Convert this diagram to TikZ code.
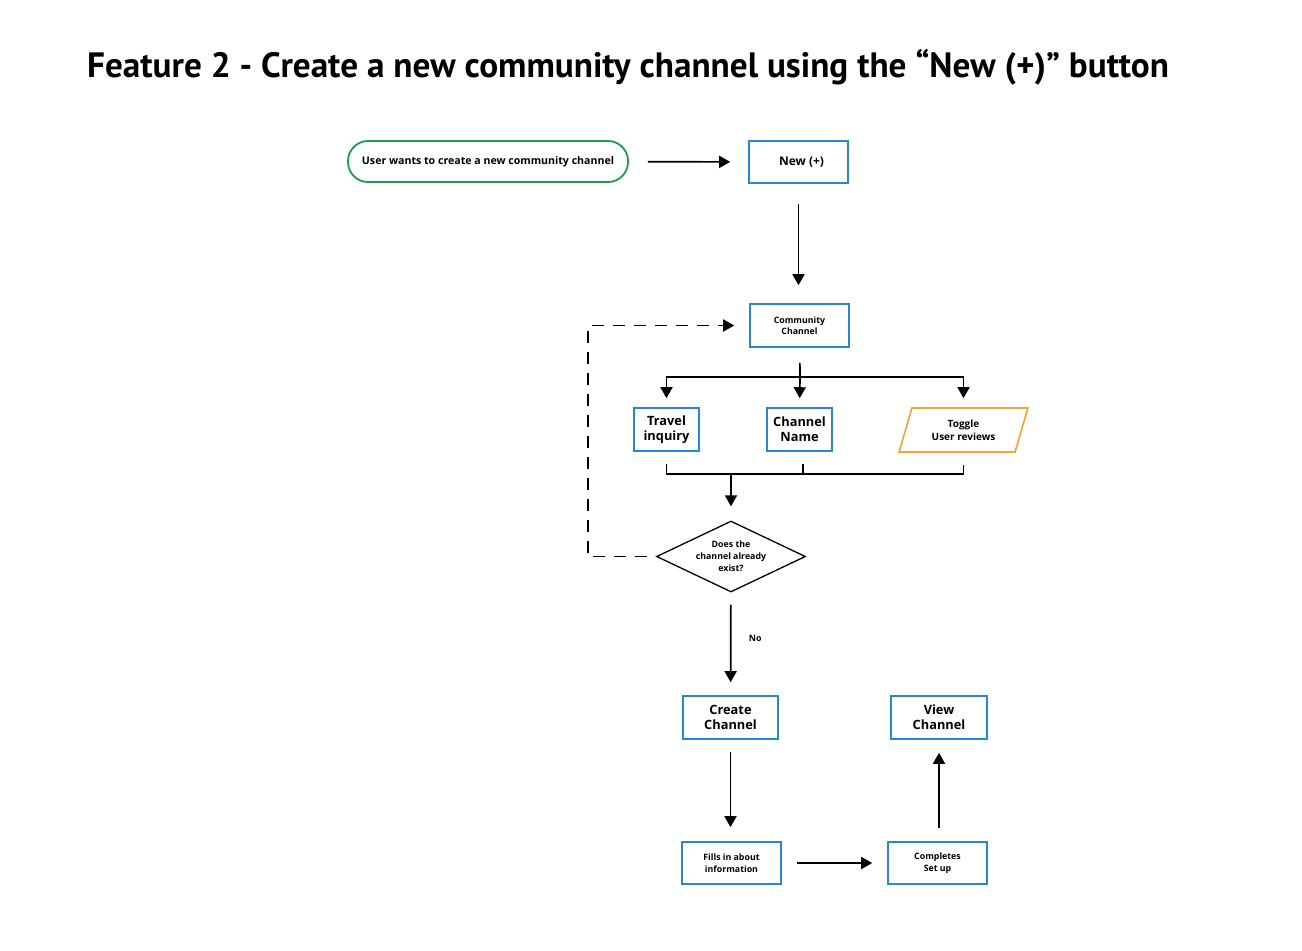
\documentclass[tikz,border=0pt]{standalone}
\usepackage{fontspec}
\setsansfont{Open Sans}
\newfontfamily\titlefont{PT Sans}
\usetikzlibrary{arrows.meta,positioning,shapes.geometric}
\definecolor{FlowBlue}{HTML}{2B87CD}
\definecolor{FlowGreen}{HTML}{1A9E4E}
\definecolor{FlowOrange}{HTML}{F6A233}

\tikzset{
  box/.style={draw=FlowBlue,line width=1.6pt,fill=white,align=center,inner sep=1pt},
  bigtxt/.style={font=\sffamily\bfseries\fontsize{12.8}{14.8}\selectfont},
  smalltxt/.style={font=\sffamily\bfseries\fontsize{8.8}{11.5}\selectfont},
  arr/.style={line width=1.7pt,-{Triangle[length=11pt,width=12pt]}},
  dashline/.style={line width=1.8pt,dash pattern=on 12pt off 9pt,line join=miter}
}

\begin{document}
\begin{tikzpicture}[x=1pt,y=-1pt,font=\sffamily\bfseries]
  \useasboundingbox[fill=white] (0,0) rectangle (1302,951);
  % --- titre ---
  \node[anchor=base west,inner sep=0,font=\titlefont\bfseries\fontsize{35.2}{40}\selectfont] (title) at (87,77)
    {Feature 2 - Create a new community channel using the “New (+)” button};
  % --- depart ---
  \node[draw=FlowGreen,line width=1.8pt,rounded corners=20pt,minimum width=280,minimum height=41,
        font=\sffamily\bfseries\fontsize{10.6}{12}\selectfont] (start) at (488,161.5)
    {User wants to create a new community channel};
  \node[box,minimum width=99,minimum height=42,font=\sffamily\bfseries\fontsize{12}{13}\selectfont] (new) at (798.5,162) {\hspace{6pt}New (+)};
  \node[box,smalltxt,minimum width=99,minimum height=43] (comm) at (799.5,325.5) {Community\\Channel};
  % --- trois champs ---
  \node[box,bigtxt,minimum width=65,minimum height=43] (travel) at (666.5,429.5) {Travel\\inquiry};
  \node[box,bigtxt,minimum width=65,minimum height=43] (chname) at (799.5,429.5) {Channel\\Name};
  \node[draw=FlowOrange,line width=1.6pt,trapezium,trapezium left angle=72,trapezium right angle=108,
        trapezium stretches=true,minimum width=130,minimum height=44,align=center,
        font=\sffamily\bfseries\fontsize{10}{12.5}\selectfont] (toggle) at (963.5,430) {Toggle\\User reviews};
  % --- decision ---
  \node[draw,line width=1.3pt,diamond,aspect=2.1,inner sep=0,minimum width=149,minimum height=71,align=center,
        font=\sffamily\bfseries\fontsize{8.8}{11.8}\selectfont] (exists) at (731,556.5) {Does the\\channel already\\exist?};
  % --- suite ---
  \node[box,bigtxt,minimum width=95,minimum height=43] (create) at (730.5,717.5) {Create\\Channel};
  \node[box,bigtxt,minimum width=96,minimum height=43] (view) at (939,717.5) {View\\Channel};
  \node[box,smalltxt,minimum width=99,minimum height=42] (fills) at (731.5,863) {Fills in about\\information};
  \node[box,smalltxt,minimum width=99,minimum height=42] (done) at (937.5,863) {Completes\\Set up};

  \coordinate (split) at (800,377);
  \coordinate (merge) at (731,474);

  % fleches
  \draw[arr,shorten <=19pt,shorten >=18pt] (start) -- (new);
  \draw[arr,shorten <=20pt,shorten >=18pt] (new) -- (new |- comm.north);
  \draw[line width=1.7pt,shorten <=15pt] (comm) -- (split);
  \draw[arr,shorten >=9pt] (split) -| (travel.north);
  \draw[arr,shorten >=9pt] (split) -- (chname.north);
  \draw[arr,shorten >=9pt] (split) -| (toggle.north);
  \draw[line width=1.7pt,shorten <=12pt] (travel.south) |- (merge);
  \draw[line width=1.7pt,shorten <=12pt] (toggle.south) |- (merge);
  \draw[line width=1.7pt,shorten <=12pt] ([xshift=3.5pt]chname.south) -- ([xshift=3.5pt]chname.south |- merge);
  \draw[arr,shorten >=14pt] (merge) -- (exists.north);
  \draw[dashline,-{Triangle[length=11pt,width=12pt]},shorten <=9pt,shorten >=15pt]
    (exists.west) -- ++(-68,0) |- (comm.west);
  \draw[arr,shorten <=12pt,shorten >=13pt] (exists) -- (create) node[pos=0.45,right=14pt,smalltxt] (no) {No};
  \draw[arr,shorten <=12pt,shorten >=14pt] (create) -- (create |- fills.north);
  \draw[arr,shorten <=15pt,shorten >=15pt] (fills) -- (done);
  \draw[arr,shorten <=13pt,shorten >=13pt] (done.north -| view) -- (view.south);
\end{tikzpicture}
\end{document}
